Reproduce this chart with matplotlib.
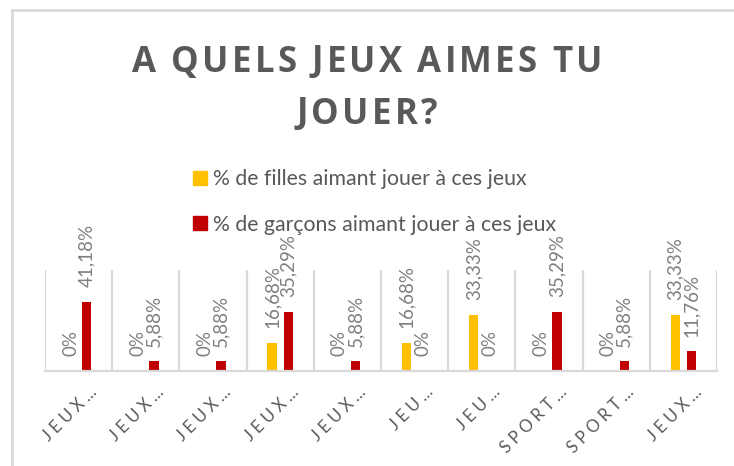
import matplotlib.pyplot as plt
from matplotlib.lines import Line2D
from matplotlib.patches import Patch
from matplotlib.font_manager import FontProperties
import matplotlib.transforms as mtransforms
import numpy as np

# data
categories = ["JEUX…", "JEUX…", "JEUX…", "JEUX…", "JEUX…",
              "JEU…", "JEU…", "SPORT…", "SPORT…", "JEUX…"]
filles = [0, 0, 0, 16.68, 0, 16.68, 33.33, 0, 0, 33.33]
garcons = [41.18, 5.88, 5.88, 35.29, 5.88, 0, 0, 35.29, 5.88, 11.76]
series_names = ["% de filles aimant jouer à ces jeux",
                "% de garçons aimant jouer à ces jeux"]
title_lines = ["A QUELS JEUX AIMES TU", "JOUER?"]

yellow = "#ffc000"
red = "#c00000"
grey_txt = "#7f7f7f"
grid_c = "#d9d9d9"

W, H = 734, 466
fig = plt.figure(figsize=(W / 100, H / 100), dpi=100)
ax = fig.add_axes([45 / W, 1 - 371 / H, (717 - 45) / W, (371 - 270) / H])

x = np.arange(len(categories))
bw = 0.14
off = 0.12
ax.bar(x - off, filles, bw, color=yellow)
ax.bar(x + off, garcons, bw, color=red)


def fmt(v):
    if v == 0:
        return "0%"
    return ("%.2f%%" % v).replace(".", ",")


for xs, vals in ((x - off, filles), (x + off, garcons)):
    for xi, v in zip(xs, vals):
        ax.annotate(fmt(v), (xi, v), xytext=(0, 10.5), textcoords="offset points",
                    rotation=90, ha="center", va="bottom", color=grey_txt,
                    fontsize=13.5, family="Lato", annotation_clip=False)

ax.set_xlim(-0.5, len(categories) - 0.5)
ax.set_ylim(0, 60)
ax.set_yticks([])
for b in np.arange(-0.5, len(categories), 1):
    ax.axvline(b, color=grid_c, lw=1.6, zorder=0)
for s in ["top", "right", "left"]:
    ax.spines[s].set_visible(False)
ax.spines["bottom"].set_color(grid_c)
ax.spines["bottom"].set_linewidth(1.6)

ax.set_xticks(x)
ax.set_xticklabels([" ".join(c[:-1]) + " …" for c in categories],
                   rotation=45, ha="right", va="top", rotation_mode="anchor",
                   color="#595959", fontsize=12, family="Lato")
ax.tick_params(axis="x", length=0, pad=9)
shift = mtransforms.ScaledTranslation(10 / 100, 0, fig.dpi_scale_trans)
for lab in ax.get_xticklabels():
    lab.set_transform(lab.get_transform() + shift)

# title with wide letter spacing, placed char by char
renderer = fig.canvas.get_renderer()
tprop = FontProperties(family="Open Sans", weight="bold", size=25)
track = 3.2


def char_w(ch):
    if ch == " ":
        a = renderer.get_text_width_height_descent("A A", tprop, ismath=False)[0]
        b = renderer.get_text_width_height_descent("AA", tprop, ismath=False)[0]
        return a - b
    return renderer.get_text_width_height_descent(ch, tprop, ismath=False)[0]


for line, yc in zip(title_lines, [58, 110]):
    widths = [char_w(c) for c in line]
    total = sum(widths) + track * (len(line) - 1)
    cx = W / 2 - total / 2
    for c, w in zip(line, widths):
        if c != " ":
            fig.text(cx / W, 1 - yc / H, c, ha="left", va="center_baseline",
                     fontproperties=tprop, color="#595959")
        cx += w + track

handles = [Patch(color=yellow), Patch(color=red)]
fig.legend(handles, series_names, loc="upper left",
           bbox_to_anchor=(174 / W, 1 - 150 / H), frameon=False,
           prop={"family": "Lato", "size": 15.3},
           handlelength=0.65, handleheight=0.65, handletextpad=0.3,
           labelspacing=1.2, labelcolor="#595959")

# chart border (only left and top visible in the screenshot)
fig.add_artist(Line2D([12 / W, 12 / W], [0, 1 - 10 / H], color=grid_c, lw=2))
fig.add_artist(Line2D([12 / W, 1], [1 - 10 / H, 1 - 10 / H], color=grid_c, lw=2))

fig.savefig("out.png", dpi=100)
